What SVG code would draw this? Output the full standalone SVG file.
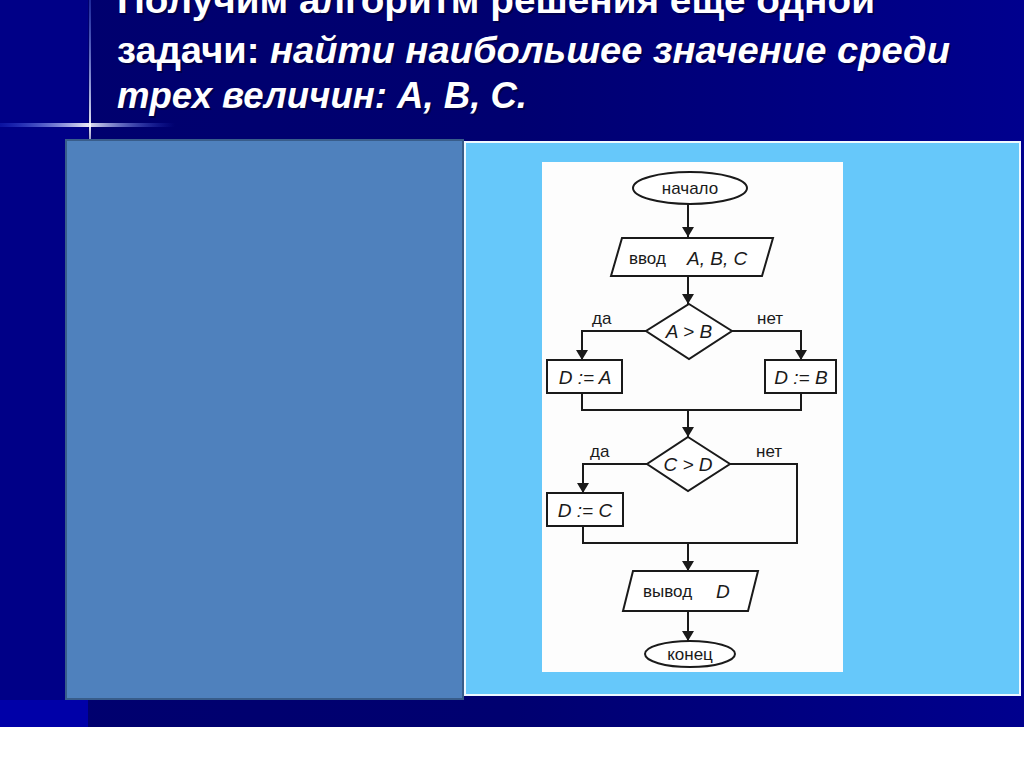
<svg xmlns="http://www.w3.org/2000/svg" width="1024" height="767" viewBox="0 0 1024 767">
<defs>
<linearGradient id="bg" x1="0" y1="0" x2="1" y2="0">
<stop offset="0" stop-color="#00006e"/>
<stop offset="0.5" stop-color="#000070"/>
<stop offset="1" stop-color="#00008e"/>
</linearGradient>
<linearGradient id="hline" x1="0" y1="0" x2="1" y2="0">
<stop offset="0" stop-color="#3355ff" stop-opacity="0.2"/>
<stop offset="0.5" stop-color="#ffffff" stop-opacity="0.9"/>
<stop offset="1" stop-color="#3355ff" stop-opacity="0"/>
</linearGradient>
<linearGradient id="vline" x1="0" y1="0" x2="0" y2="1">
<stop offset="0" stop-color="#6688ff" stop-opacity="0.3"/>
<stop offset="0.9" stop-color="#ffffff" stop-opacity="0.9"/>
<stop offset="1" stop-color="#ffffff" stop-opacity="0.6"/>
</linearGradient>
<marker id="ah" viewBox="0 0 10 12" refX="10" refY="6" markerWidth="11" markerHeight="12" markerUnits="userSpaceOnUse" orient="auto">
<path d="M0,0 L10,6 L0,12 Z" fill="#1a1a1a"/>
</marker>
</defs>
<style>
.t{font-family:"Liberation Sans",Arial,sans-serif;font-weight:bold;font-size:37px;fill:#ffffff}
.i{font-style:italic}
.sh{fill:#000033;opacity:0.6}
.shape{fill:#ffffff;stroke:#1a1a1a;stroke-width:2}
.lbl{font-family:"Liberation Sans",Arial,sans-serif;font-size:17px;fill:#1a1a1a}
.var{font-family:"Liberation Sans",Arial,sans-serif;font-size:19px;font-style:italic;fill:#1a1a1a}
.con{fill:none;stroke:#1a1a1a;stroke-width:2}
</style>
<rect x="0" y="0" width="1024" height="767" fill="url(#bg)"/>
<rect x="0" y="0" width="88" height="727" fill="#0000a0" opacity="0.5"/>
<rect x="0" y="700" width="88" height="27" fill="#0000a8"/>
<rect x="0" y="727" width="1024" height="40" fill="#ffffff"/>
<rect x="0" y="123" width="175" height="4" fill="url(#hline)"/>
<rect x="89" y="0" width="2" height="140" fill="url(#vline)"/>

<g id="title">
<text class="t sh" x="119" y="15" textLength="758" lengthAdjust="spacingAndGlyphs">Получим алгоритм решения еще одной</text>
<text class="t" x="117" y="13" textLength="758" lengthAdjust="spacingAndGlyphs">Получим алгоритм решения еще одной</text>
<text class="t sh" x="119" y="65" textLength="833" lengthAdjust="spacingAndGlyphs">задачи: <tspan class="i">найти наибольшее значение среди</tspan></text>
<text class="t" x="117" y="63" textLength="833" lengthAdjust="spacingAndGlyphs">задачи: <tspan class="i">найти наибольшее значение среди</tspan></text>
<text class="t i sh" x="119" y="110" textLength="410" lengthAdjust="spacingAndGlyphs">трех величин: А, В, С.</text>
<text class="t i" x="117" y="108" textLength="410" lengthAdjust="spacingAndGlyphs">трех величин: А, В, С.</text>
</g>

<g id="left-panel">
<rect x="66" y="140" width="397" height="559" fill="#4f81bd" stroke="#385d8a" stroke-width="2"/>
</g>
<g id="right-panel">
<rect x="465" y="142" width="555" height="553" fill="#66c8fa" stroke="#eef8ff" stroke-width="2"/>
<rect x="542" y="162" width="301" height="510" fill="#fdfdfd"/>
</g>

<g id="connectors">
<line class="con" x1="688" y1="204" x2="688" y2="237" marker-end="url(#ah)"/>
<line class="con" x1="688" y1="276" x2="688" y2="304" marker-end="url(#ah)"/>
<polyline class="con" points="646,331 582,331 582,360" marker-end="url(#ah)"/>
<polyline class="con" points="732,331 801,331 801,360" marker-end="url(#ah)"/>
<polyline class="con" points="582,393 582,410 801,410 801,393"/>
<line class="con" x1="688" y1="410" x2="688" y2="437" marker-end="url(#ah)"/>
<polyline class="con" points="647,464 583,464 583,493" marker-end="url(#ah)"/>
<polyline class="con" points="730,464 797,464 797,543 583,543 583,526"/>
<line class="con" x1="688" y1="543" x2="688" y2="571" marker-end="url(#ah)"/>
<line class="con" x1="688" y1="611" x2="688" y2="641" marker-end="url(#ah)"/>
</g>

<g id="start">
<ellipse class="shape" cx="690" cy="188" rx="57" ry="16"/>
<text class="lbl" x="690" y="194" text-anchor="middle">начало</text>
</g>
<g id="input">
<polygon class="shape" points="622,238 773,238 762,276 611,276"/>
<text class="lbl" x="629" y="264">ввод</text>
<text class="var" x="687" y="265">A, B, C</text>
</g>
<g id="cond1">
<polygon class="shape" points="689,304 732,331 689,359 646,331"/>
<text class="var" x="689" y="338" text-anchor="middle">A &gt; B</text>
<text class="lbl" x="592" y="324">да</text>
<text class="lbl" x="757" y="324">нет</text>
</g>
<g id="assignA">
<rect class="shape" x="547" y="360" width="75" height="33"/>
<text class="var" x="585" y="384" text-anchor="middle">D := A</text>
</g>
<g id="assignB">
<rect class="shape" x="765" y="360" width="71" height="33"/>
<text class="var" x="801" y="384" text-anchor="middle">D := B</text>
</g>
<g id="cond2">
<polygon class="shape" points="688,437 730,464 688,491 647,464"/>
<text class="var" x="688" y="471" text-anchor="middle">C &gt; D</text>
<text class="lbl" x="590" y="457">да</text>
<text class="lbl" x="756" y="457">нет</text>
</g>
<g id="assignC">
<rect class="shape" x="547" y="493" width="76" height="33"/>
<text class="var" x="585" y="517" text-anchor="middle">D := C</text>
</g>
<g id="output">
<polygon class="shape" points="633,571 758,571 748,611 623,611"/>
<text class="lbl" x="643" y="597">вывод</text>
<text class="var" x="716" y="598">D</text>
</g>
<g id="end">
<ellipse class="shape" cx="690" cy="654" rx="45" ry="13"/>
<text class="lbl" x="690" y="660" text-anchor="middle">конец</text>
</g>
</svg>
